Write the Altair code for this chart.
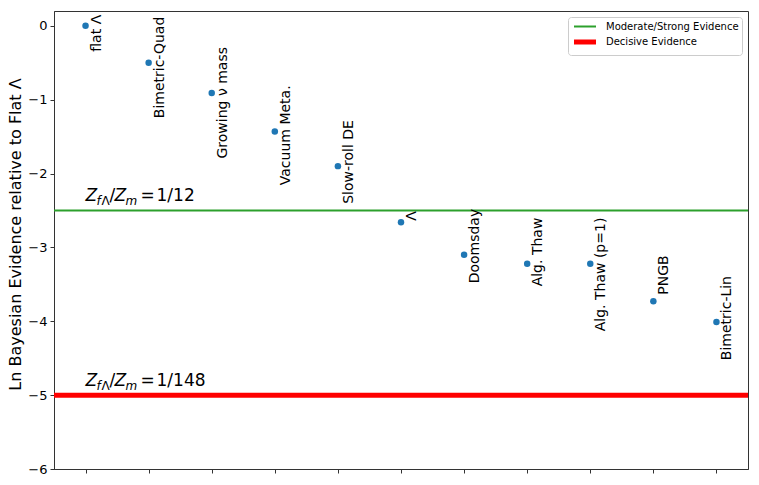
import altair as alt
import pandas as pd

# ---- data ----
models = ["flat Λ", "Bimetric-Quad", "Growing ν mass", "Vacuum Meta.", "Slow-roll DE",
          "Λ", "Doomsday", "Alg. Thaw", "Alg. Thaw (p=1)", "PNGB", "Bimetric-Lin"]
ln_evidence = [0.0, -0.50, -0.91, -1.43, -1.90, -2.66, -3.10, -3.22, -3.22, -3.73, -4.01]
positions = list(range(len(models)))

threshold_names = ["Moderate/Strong Evidence", "Decisive Evidence"]
threshold_values = [-2.5, -5.0]
threshold_ratios = ["1/12", "1/148"]
threshold_colors = ["#2ca02c", "#ff0000"]

y_ticks = [0, -1, -2, -3, -4, -5, -6]

pts = pd.DataFrame({"pos": positions, "lnZ": ln_evidence, "model": models})
thr = pd.DataFrame({"name": threshold_names, "value": threshold_values, "ratio": threshold_ratios})

FONT = "DejaVu Sans"
xscale = alt.Scale(domain=[-0.5, 10.5], nice=False, zero=False)
yscale = alt.Scale(domain=[-6, 0.2], nice=False, zero=False)

X = alt.X("pos:Q", scale=xscale,
          axis=alt.Axis(values=positions, labels=False, title=None, grid=False,
                        tickSize=4, domainColor="#333", tickColor="#333"))
Y = alt.Y("lnZ:Q", scale=yscale,
          axis=alt.Axis(values=y_ticks, format="d", title="Ln Bayesian Evidence relative to Flat Λ",
                        grid=False, tickSize=4, labelPadding=3, labelFontSize=13, labelFont=FONT,
                        labelColor="#000", titleFont=FONT, titleFontSize=16, titleFontWeight="normal",
                        titleColor="#000", titleX=-39, titleY=223, titleAngle=270,
                        titleAlign="center", titleBaseline="middle",
                        domainColor="#333", tickColor="#333"))

base = alt.Chart(pts)

points = base.mark_circle(size=42, opacity=1, color="#1f77b4").encode(x=X, y=Y)

special = ["flat Λ", "Λ"]
labels_main = base.transform_filter(
    ~alt.FieldOneOfPredicate(field="model", oneOf=special)
).mark_text(angle=270, align="right", baseline="middle", dx=46, dy=11,
            fontSize=14, font=FONT, color="#000").encode(
    x=alt.X("pos:Q", scale=xscale), y=alt.Y("lnZ:Q", scale=yscale), text="model:N")

labels_special = base.transform_filter(
    alt.FieldOneOfPredicate(field="model", oneOf=special)
).mark_text(angle=270, align="right", baseline="middle", dx=11, dy=11,
            fontSize=14, font=FONT, color="#000").encode(
    x=alt.X("pos:Q", scale=xscale), y=alt.Y("lnZ:Q", scale=yscale), text="model:N")

legend_cfg = dict(title=None, orient="top-right", offset=6,
                  symbolType="M-2,0H2", symbolSize=121, symbolOffset=6,
                  labelFont=FONT, labelFontSize=10, labelColor="#000",
                  fillColor="white", strokeColor="#cccccc",
                  cornerRadius=3, padding=3, rowPadding=0, labelOffset=13)

rules = alt.Chart(thr).mark_rule().encode(
    y=alt.Y("value:Q", scale=yscale),
    color=alt.Color("name:N", scale=alt.Scale(domain=threshold_names, range=threshold_colors),
                    legend=alt.Legend(**legend_cfg)),
    strokeWidth=alt.StrokeWidth("name:N", scale=alt.Scale(domain=threshold_names, range=[2, 5]),
                                legend=alt.Legend(**legend_cfg)),
)

# annotation pieces: Z_{fΛ}/Z_m = ratio
ann_base = alt.Chart(thr)
def piece(text, dx, size=17, italic=False, sub=False, field=None):
    mk = ann_base.mark_text(align="left", baseline="alphabetic", dx=dx, dy=-9 + (4 if sub else 0),
                            fontSize=size, font=FONT, color="#000",
                            fontStyle="italic" if italic else "normal")
    enc = dict(x=alt.XDatum(0), y=alt.Y("value:Q", scale=yscale))
    if field:
        enc["text"] = alt.Text(field + ":N")
    else:
        enc["text"] = alt.value(text)
    return mk.encode(**enc)

annotations = [
    piece("Z", 0, italic=True),
    piece("f", 11, size=12, italic=True, sub=True),
    piece("Λ", 16, size=12, sub=True),
    piece("/", 24),
    piece("Z", 29, italic=True),
    piece("m", 40, size=12, italic=True, sub=True),
    piece("=", 55),
    piece(None, 71, field="ratio"),
]

chart = alt.layer(rules, points, labels_main, labels_special, *annotations).properties(
    width=694, height=458,
    autosize=alt.AutoSizeParams(type="none"),
    padding={"left": 46, "top": 3, "right": 3, "bottom": 10},
).configure_view(stroke="#333", strokeWidth=1).configure_axis(labelFont=FONT)

chart.save("out.html", embed_options={"renderer": "svg", "actions": False})
